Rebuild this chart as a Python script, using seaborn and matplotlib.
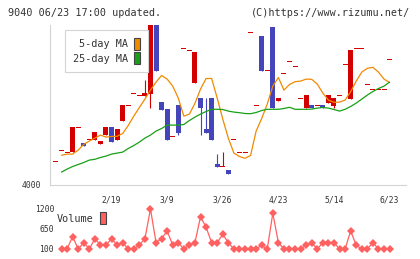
import numpy as np
import pandas as pd
import seaborn as sns
import matplotlib.pyplot as plt
from matplotlib.patches import Patch

# candle data (day -1 .. 59)
days = list(range(-1, 60))
opens = [4116, 4171, 4161, 4161, 4287, 4207, 4226, 4222, 4204, 4247, 4287,
         4222, 4320, 4397, 4457, 4447, 4444, 4455, 4900, 4412, 4377,
         4241, 4397, 4681, 4671, 4507, 4432, 4277, 4432, 4102, 4092,
         4072, 4227, 4161, 4161, 4761, 4396, 4742, 4571, 4787, 4419,
         4556, 4616, 4591, 4431, 4384, 4397, 4396, 4397, 4409, 4394,
         4446, 4601, 4427, 4681, 4681, 4501, 4476, 4476, 4476, 4626]
closes = [4116, 4171, 4161, 4287, 4287, 4192, 4226, 4262, 4217, 4287, 4214,
          4277, 4397, 4397, 4457, 4447, 4457, 4900, 4570, 4372, 4224,
          4241, 4257, 4681, 4671, 4662, 4382, 4257, 4224, 4089, 4092,
          4054, 4227, 4161, 4161, 4761, 4396, 4569, 4571, 4382, 4432,
          4556, 4616, 4591, 4431, 4447, 4384, 4396, 4384, 4447, 4432,
          4446, 4601, 4672, 4681, 4681, 4501, 4476, 4476, 4476, 4626]
highs = [4116, 4171, 4161, 4287, 4287, 4207, 4226, 4262, 4217, 4287, 4287,
         4277, 4397, 4397, 4457, 4447, 4522, 4900, 4900, 4412, 4377,
         4241, 4397, 4681, 4671, 4662, 4432, 4432, 4432, 4152, 4162,
         4072, 4227, 4161, 4161, 4761, 4396, 4742, 4571, 4787, 4432,
         4556, 4616, 4591, 4431, 4447, 4397, 4396, 4397, 4447, 4432,
         4446, 4601, 4672, 4681, 4681, 4501, 4476, 4476, 4476, 4626]
lows = [4116, 4171, 4161, 4161, 4287, 4192, 4226, 4222, 4204, 4247, 4214,
        4222, 4320, 4397, 4457, 4447, 4444, 4384, 4570, 4372, 4224,
        4241, 4247, 4681, 4671, 4507, 4247, 4257, 4224, 4089, 4092,
        4054, 4227, 4161, 4161, 4761, 4396, 4569, 4571, 4382, 4419,
        4556, 4616, 4591, 4431, 4384, 4384, 4396, 4384, 4409, 4384,
        4446, 4601, 4427, 4681, 4681, 4501, 4476, 4476, 4476, 4626]

# moving averages and volume (day 0 .. 59)
ma_days = list(range(0, 60))
ma5 = [4146, 4152, 4152, 4172, 4201, 4217, 4232, 4247, 4237, 4240,
       4241, 4255, 4295, 4342, 4385, 4427, 4472, 4512, 4545, 4527,
       4492, 4432, 4342, 4352, 4406, 4477, 4530, 4530, 4432, 4327,
       4232, 4157, 4140, 4131, 4145, 4267, 4330, 4402, 4492, 4535,
       4472, 4500, 4514, 4517, 4527, 4526, 4502, 4457, 4422, 4411,
       4412, 4422, 4464, 4517, 4562, 4581, 4586, 4562, 4527, 4510]
ma25 = [4062, 4077, 4090, 4100, 4110, 4122, 4126, 4135, 4142, 4152,
        4157, 4162, 4180, 4195, 4212, 4232, 4247, 4267, 4280, 4297,
        4297, 4297, 4300, 4320, 4337, 4352, 4365, 4376, 4376, 4375,
        4367, 4362, 4359, 4355, 4354, 4360, 4370, 4376, 4376, 4376,
        4380, 4386, 4376, 4376, 4376, 4377, 4382, 4385, 4382, 4375,
        4367, 4376, 4390, 4407, 4427, 4447, 4465, 4480, 4492, 4512]
volume = [80, 80, 430, 80, 260, 80, 370, 190, 190, 370,
          190, 260, 80, 80, 190, 370, 1200, 260, 370, 585,
          190, 260, 80, 190, 260, 985, 690, 260, 260, 490,
          260, 80, 80, 80, 80, 80, 190, 80, 1080, 260,
          80, 80, 80, 80, 190, 260, 80, 260, 260, 260,
          80, 80, 585, 190, 80, 80, 260, 80, 80, 80]

label_days = [9, 19, 29, 39, 49, 59]
date_labels = ["2/19", "3/9", "3/26", "4/23", "5/14", "6/23"]
vol_ticks = [100, 650, 1200]

RED = "#d40000"
BLUE = "#4444bb"
ORANGE = "#f08a00"
GREEN = "#18a018"
VOLC = "#ff6060"
GREY = "#d4d4d4"
TXT = "#333333"

sns.set_style("white")
plt.rcParams['font.family'] = ['DejaVu Sans Mono', 'DejaVu Sans']

W, H = 420, 259
fig = plt.figure(figsize=(W / 100, H / 100), dpi=100)

def box(x0, y0, x1, y1):
    return [x0 / W, 1 - y1 / H, (x1 - x0) / W, (y1 - y0) / H]

ax = fig.add_axes(box(50, 25, 405.7, 184.5))
axv = fig.add_axes(box(50, 205, 405.7, 252))
xlim = (-2.07, 61.9)

# candles
df = pd.DataFrame({"day": days, "open": opens, "close": closes,
                   "high": highs, "low": lows})
df["up"] = df["close"] >= df["open"]
df["color"] = np.where(df["up"], RED, BLUE)
bot = df[["open", "close"]].min(axis=1)
top = df[["open", "close"]].max(axis=1)
flat = (top - bot) < 5
bot = np.where(flat, (top + bot) / 2 - 2.6, bot)
top = np.where(flat, bot + 5.2, top)
ax.vlines(df["day"], df["low"], df["high"], colors=df["color"], linewidth=0.8, zorder=2)
ax.bar(df["day"], top - bot, bottom=bot, width=0.9, color=df["color"],
       linewidth=0, zorder=3)

ma = pd.DataFrame({"day": ma_days, "ma5": ma5, "ma25": ma25, "volume": volume})
sns.lineplot(data=ma, x="day", y="ma5", ax=ax, color=ORANGE, linewidth=0.9, zorder=4)
sns.lineplot(data=ma, x="day", y="ma25", ax=ax, color=GREEN, linewidth=0.9, zorder=4)

ax.set_xlim(*xlim)
ax.set_ylim(4000, 4797.5)
ax.set_xlabel("")
ax.set_ylabel("")
for s in ["top", "right"]:
    ax.spines[s].set_visible(False)
for s in ["left", "bottom"]:
    ax.spines[s].set_color(GREY)
    ax.spines[s].set_linewidth(0.8)
ax.set_xticks(label_days, date_labels)
ax.set_xticks(np.linspace(xlim[0], xlim[1], 12), minor=True)
ax.tick_params(axis="x", which="major", length=0, pad=8, labelsize=5.8, labelcolor=TXT)
ax.tick_params(axis="x", which="minor", direction="inout", length=5.8, width=0.8, color=GREY)
ax.set_yticks([4000], ["4000"])
ax.tick_params(axis="y", direction="inout", length=7, width=0.8, color=GREY,
               labelsize=5.8, labelcolor=TXT, pad=3)

h = [Patch(facecolor=ORANGE, edgecolor="#444444", linewidth=0.8),
     Patch(facecolor=GREEN, edgecolor="#444444", linewidth=0.8)]
leg = ax.legend(h, ["5-day MA", "25-day MA"], loc="upper left",
                bbox_to_anchor=((65 - 50) / 355.7, (184.5 - 30) / 159.5),
                borderaxespad=0, markerfirst=False, fontsize=7.3,
                handlelength=0.6, handleheight=1.5, handletextpad=0.6,
                labelspacing=0.2, borderpad=0.75, fancybox=False,
                framealpha=1, edgecolor=GREY, labelcolor=TXT)
leg.get_frame().set_linewidth(0.8)

# volume
sns.lineplot(data=ma, x="day", y="volume", ax=axv, color=VOLC, linewidth=0.9,
             marker="D", markersize=4, markeredgewidth=0)
axv.set_xlim(*xlim)
axv.set_ylim(-4, 1312)
axv.set_xlabel("")
axv.set_ylabel("")
sns.despine(ax=axv, left=True, bottom=True)
axv.set_xticks([])
axv.set_yticks(vol_ticks, [str(v) for v in vol_ticks])
axv.tick_params(axis="y", length=0, pad=-3, labelsize=5.8, labelcolor=TXT)
vleg = axv.legend([Patch(facecolor=VOLC, edgecolor="#444444", linewidth=0.8)],
                  ["Volume"], loc="upper left",
                  bbox_to_anchor=((57 - 50) / 355.7, (252 - 212) / 47),
                  borderaxespad=0, markerfirst=False, fontsize=7.3,
                  handlelength=0.6, handleheight=1.5, handletextpad=0.6,
                  borderpad=0, frameon=False, labelcolor=TXT)

fig.text(8 / W, 1 - 12.7 / H, "9040 06/23 17:00 updated.", fontsize=7.3,
         color=TXT, va="center", ha="left")
fig.text(410 / W, 1 - 12.7 / H, "(C)https://www.rizumu.net/", fontsize=7.3,
         color=TXT, va="center", ha="right")

fig.savefig("out.png", dpi=100)
